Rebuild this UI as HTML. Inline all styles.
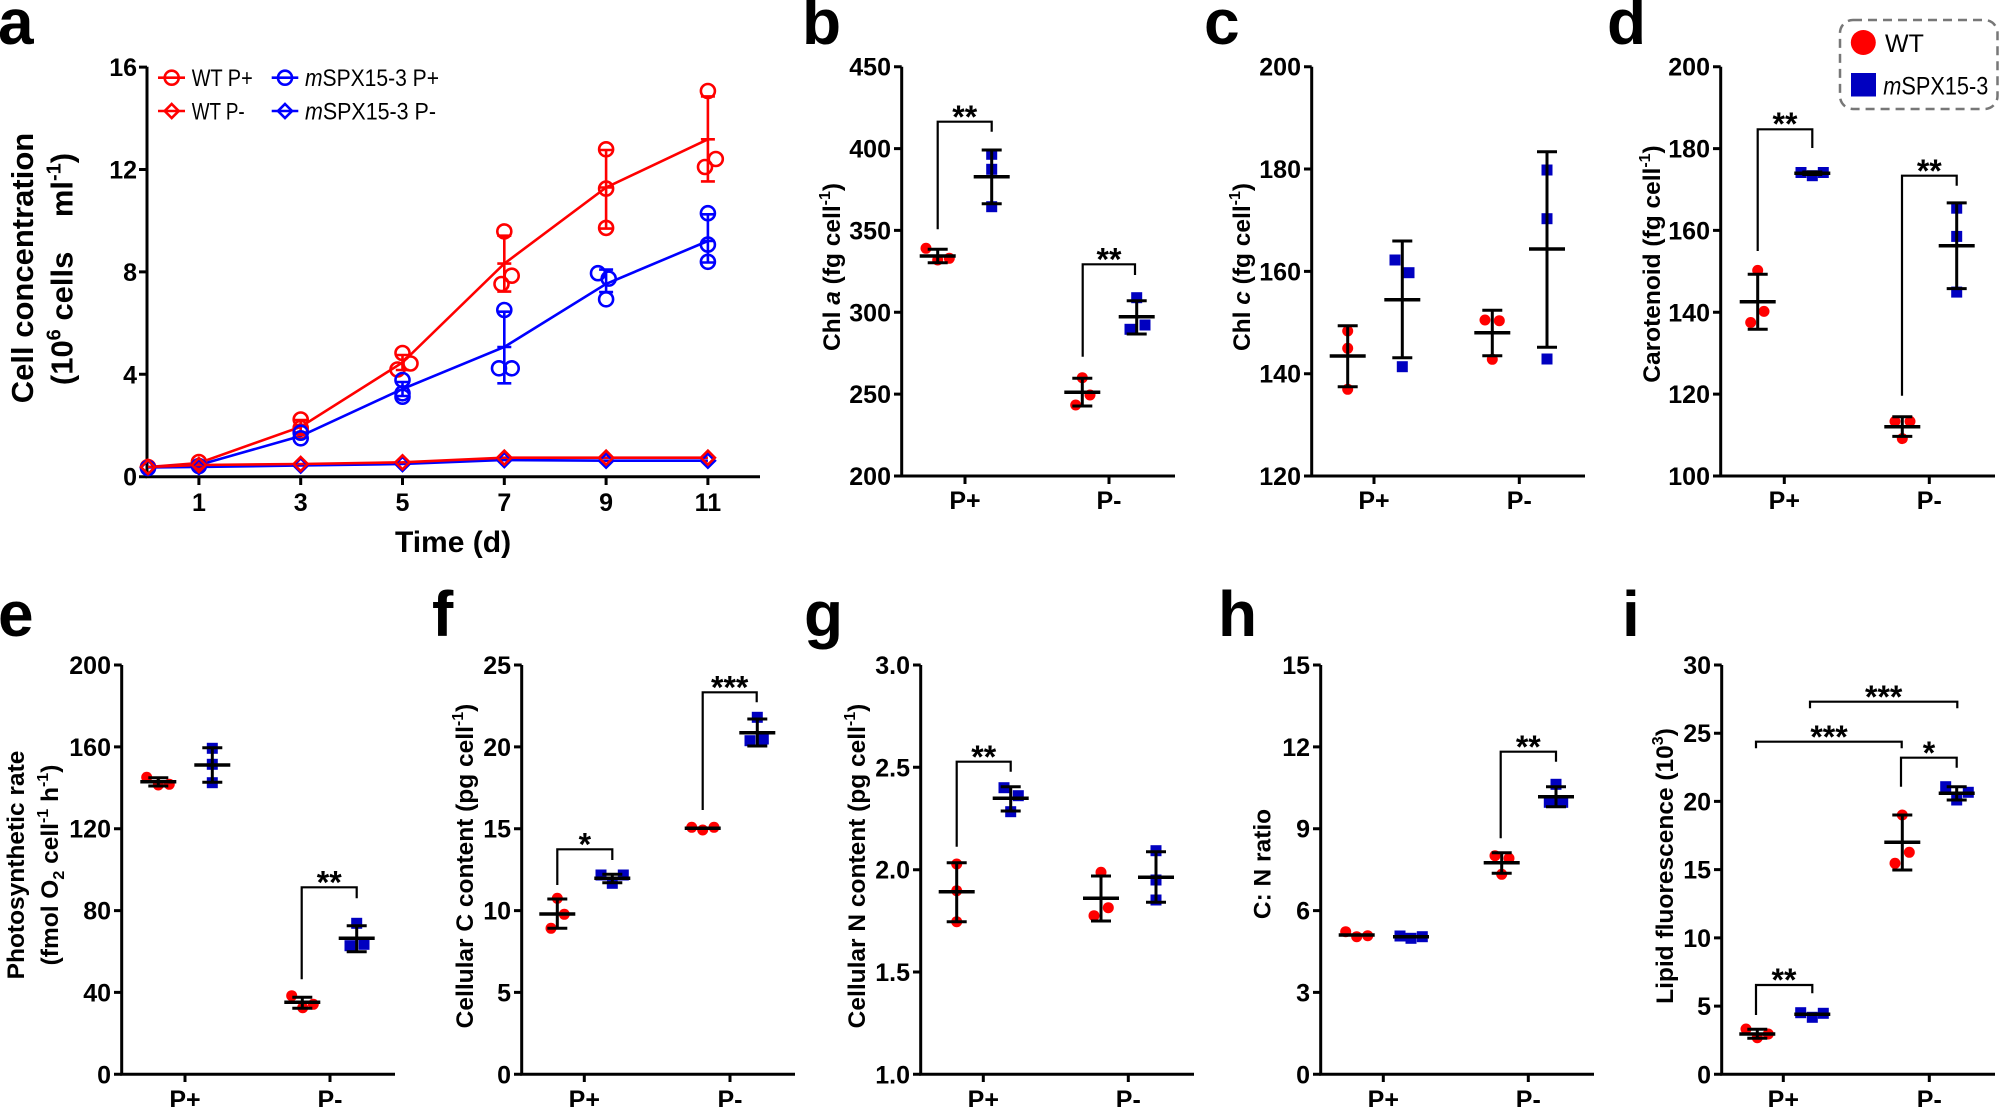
<!DOCTYPE html>
<html><head><meta charset="utf-8"><style>
html,body{margin:0;padding:0;background:#fff;}
svg{display:block;}
text{font-family:"Liberation Sans",Arial,sans-serif;}
.ax{stroke:#000;stroke-width:3;fill:none;}
.eb{stroke:#000;stroke-width:3;fill:none;}
.mn{stroke:#000;stroke-width:3.5;fill:none;}
.br{stroke:#000;stroke-width:2.2;fill:none;}
.tk{font-size:25px;font-weight:bold;}
.tl{font-size:25px;font-weight:bold;text-anchor:end;}
.xl{font-size:25px;font-weight:bold;text-anchor:middle;}
.yl{font-size:24.5px;font-weight:bold;text-anchor:middle;}
.st{font-size:32px;font-weight:bold;text-anchor:middle;}
.lt{font-size:64px;font-weight:bold;}
.r{fill:#ff0000;}
.b{fill:#0000c0;}
.lr{stroke:#ff0000;stroke-width:2.6;fill:none;}
.lb{stroke:#0000ff;stroke-width:2.6;fill:none;}
</style></head><body>
<svg width="2000" height="1107" viewBox="0 0 2000 1107" xmlns="http://www.w3.org/2000/svg">
<rect width="2000" height="1107" fill="#fff"/>

<!-- panel letters -->
<text class="lt" x="-2" y="44">a</text>
<text class="lt" x="802" y="44">b</text>
<text class="lt" x="1204" y="44">c</text>
<text class="lt" x="1607" y="44">d</text>
<text class="lt" x="-2" y="636">e</text>
<text class="lt" x="432" y="636">f</text>
<text class="lt" x="804" y="636">g</text>
<text class="lt" x="1218" y="636">h</text>
<text class="lt" x="1622" y="636">i</text>

<!-- ================= PANEL A ================= -->
<path class="ax" d="M147,66.7V476.7H760"/>
<path class="ax" d="M139,67.1H147M139,169.5H147M139,271.9H147M139,374.3H147M139,476.7H147M198.9,476.7V485M300.7,476.7V485M402.5,476.7V485M504.3,476.7V485M606.1,476.7V485M707.9,476.7V485"/>
<text class="tl" x="137" y="76">16</text>
<text class="tl" x="137" y="178.5">12</text>
<text class="tl" x="137" y="281">8</text>
<text class="tl" x="137" y="383.3">4</text>
<text class="tl" x="137" y="485.7">0</text>
<text class="xl" x="198.9" y="511">1</text>
<text class="xl" x="300.7" y="511">3</text>
<text class="xl" x="402.5" y="511">5</text>
<text class="xl" x="504.3" y="511">7</text>
<text class="xl" x="606.1" y="511">9</text>
<text class="xl" x="707.9" y="511">11</text>
<text x="453" y="552" style="font-size:30px;font-weight:bold;text-anchor:middle">Time (d)</text>
<text transform="translate(33,268) rotate(-90)" style="font-size:31px;font-weight:bold;text-anchor:middle">Cell concentration</text>
<text transform="translate(72.5,269) rotate(-90)" style="font-size:31px;font-weight:bold;text-anchor:middle" xml:space="preserve">(10<tspan font-size="20" dy="-12">6</tspan><tspan dy="12"> cells    ml</tspan><tspan font-size="20" dy="-12">-1</tspan><tspan dy="12">)</tspan></text>

<!-- series lines -->
<polyline class="lr" points="148,467 198.9,463 300.7,426.8 402.5,362.5 504.3,263.6 606.1,187.5 707.9,139.3"/>
<polyline class="lb" points="148,467 198.9,465 300.7,436 402.5,389 504.3,347 606.1,283.9 707.9,241"/>
<polyline class="lb" points="148,467.5 198.9,467 300.7,465.5 402.5,464 504.3,460 606.1,460.7 707.9,460.7"/>
<polyline class="lr" points="148,467 198.9,465 300.7,464 402.5,462.3 504.3,457.7 606.1,457.7 707.9,457.7"/>
<!-- error bars a -->
<path class="lr" d="M300.7,420V433M294,420H307.4M294,433H307.4M402.5,355V370M395.8,355H409.2M395.8,370H409.2M504.3,235.7V291.6M497.3,235.7H511.3M497.3,291.6H511.3M497.3,263.6H511.3M606.1,150V228.6M599.1,150H613.1M599.1,228.6H613.1M599.1,187.5H613.1M707.9,96.4V181.4M700.9,96.4H714.9M700.9,181.4H714.9M700.9,139.3H714.9"/>
<path class="lb" d="M402.5,382V396M395.8,382H409.2M395.8,396H409.2M504.3,311.7V383.3M497.3,311.7H511.3M497.3,383.3H511.3M497.3,347H511.3M606.1,269.6V292.1M599.1,269.6H613.1M599.1,292.1H613.1M707.9,214.3V262.5M700.9,214.3H714.9M700.9,262.5H714.9M700.9,241H714.9"/>
<!-- red circles -->
<g class="lr" fill="none">
<circle cx="148" cy="467" r="7"/><circle cx="198.9" cy="462" r="7"/>
<circle cx="300.7" cy="419.5" r="7"/><circle cx="300.7" cy="428" r="7"/><circle cx="300.7" cy="431.5" r="7"/>
<circle cx="402.5" cy="353" r="7"/><circle cx="410.5" cy="363.5" r="7"/><circle cx="397.5" cy="369.5" r="7"/>
<circle cx="504.3" cy="231.4" r="7"/><circle cx="511.7" cy="275.7" r="7"/><circle cx="501.5" cy="284" r="7"/>
<circle cx="606.1" cy="149.3" r="7"/><circle cx="606.1" cy="188.6" r="7"/><circle cx="606.1" cy="227.9" r="7"/>
<circle cx="707.9" cy="91" r="7"/><circle cx="715.8" cy="159" r="7"/><circle cx="705" cy="167" r="7"/>
</g>
<g class="lb" fill="none">
<circle cx="148" cy="468" r="7"/><circle cx="198.9" cy="466" r="7"/>
<circle cx="300.7" cy="432.7" r="7"/><circle cx="300.7" cy="438.3" r="7"/>
<circle cx="402.5" cy="380" r="7"/><circle cx="402.5" cy="393.3" r="7"/><circle cx="402.5" cy="396.7" r="7"/>
<circle cx="504.3" cy="310" r="7"/><circle cx="499" cy="368.3" r="7"/><circle cx="511.7" cy="368.3" r="7"/>
<circle cx="598" cy="273.2" r="7"/><circle cx="608.7" cy="278.6" r="7"/><circle cx="606.1" cy="299.3" r="7"/>
<circle cx="707.9" cy="213.2" r="7"/><circle cx="707.9" cy="244.6" r="7"/><circle cx="707.9" cy="261.8" r="7"/>
</g>
<!-- diamonds -->
<g class="lb" fill="none">
<path d="M148,460.5l7,7l-7,7l-7,-7z"/><path d="M198.9,460l7,7l-7,7l-7,-7z"/><path d="M300.7,458.5l7,7l-7,7l-7,-7z"/><path d="M402.5,457l7,7l-7,7l-7,-7z"/><path d="M504.3,453l7,7l-7,7l-7,-7z"/><path d="M606.1,453.7l7,7l-7,7l-7,-7z"/><path d="M707.9,453.7l7,7l-7,7l-7,-7z"/>
</g>
<g class="lr" fill="none">
<path d="M148,460l7,7l-7,7l-7,-7z"/><path d="M198.9,458l7,7l-7,7l-7,-7z"/><path d="M300.7,457l7,7l-7,7l-7,-7z"/><path d="M402.5,455.3l7,7l-7,7l-7,-7z"/><path d="M504.3,450.7l7,7l-7,7l-7,-7z"/><path d="M606.1,450.7l7,7l-7,7l-7,-7z"/><path d="M707.9,450.7l7,7l-7,7l-7,-7z"/>
</g>
<!-- legend a -->
<path class="lr" d="M158,77.7H185"/><circle class="lr" cx="171.7" cy="77.7" r="7"/>
<text x="191.7" y="86" style="font-size:24px" textLength="61" lengthAdjust="spacingAndGlyphs">WT P+</text>
<path class="lb" d="M271.7,77.7H298.3"/><circle class="lb" cx="285" cy="77.7" r="7"/>
<text x="305" y="86" style="font-size:24px" textLength="134" lengthAdjust="spacingAndGlyphs"><tspan font-style="italic">m</tspan>SPX15-3 P+</text>
<path class="lr" d="M158,111H185"/><path class="lr" d="M171.7,104l7,7l-7,7l-7,-7z"/>
<text x="191.7" y="119.5" style="font-size:24px" textLength="53" lengthAdjust="spacingAndGlyphs">WT P-</text>
<path class="lb" d="M271.7,111H298.3"/><path class="lb" d="M285,104l7,7l-7,7l-7,-7z"/>
<text x="305" y="119.5" style="font-size:24px" textLength="131" lengthAdjust="spacingAndGlyphs"><tspan font-style="italic">m</tspan>SPX15-3 P-</text>

<!-- ================= PANEL B ================= -->
<path class="ax" d="M901.7,66.7V476H1175"/>
<path class="ax" d="M894,66.7H901.7M894,148.6H901.7M894,230.4H901.7M894,312.3H901.7M894,394.1H901.7M894,476H901.7M965,476V484M1109,476V484"/>
<text class="tl" x="891" y="75.7">450</text>
<text class="tl" x="891" y="157.6">400</text>
<text class="tl" x="891" y="239.4">350</text>
<text class="tl" x="891" y="321.3">300</text>
<text class="tl" x="891" y="403.1">250</text>
<text class="tl" x="891" y="485">200</text>
<text class="xl" x="965" y="509">P+</text>
<text class="xl" x="1109" y="509">P-</text>
<text class="yl" transform="translate(840,267) rotate(-90)">Chl <tspan font-style="italic">a</tspan> (fg cell<tspan font-size="16" dy="-10">-1</tspan><tspan dy="10">)</tspan></text>
<g class="r"><circle cx="926" cy="248.3" r="5.5"/><circle cx="937.7" cy="260" r="5.5"/><circle cx="949.3" cy="258.3" r="5.5"/>
<circle cx="1082.3" cy="377.7" r="5.5"/><circle cx="1090" cy="395" r="5.5"/><circle cx="1075.7" cy="405" r="5.5"/></g>
<g class="b"><rect x="986.2" y="148.8" width="11" height="11"/><rect x="986.2" y="163.8" width="11" height="11"/><rect x="986.2" y="201.2" width="11" height="11"/>
<rect x="1131.2" y="292.2" width="11" height="11"/><rect x="1139.5" y="319.5" width="11" height="11"/><rect x="1124.5" y="323.8" width="11" height="11"/></g>
<path class="eb" d="M937.7,249.3V262.7M927.7,249.3H947.7M927.7,262.7H947.7M991.7,150V203.7M981.7,150H1001.7M981.7,203.7H1001.7M1082.3,378.3V406M1072.3,378.3H1092.3M1072.3,406H1092.3M1136.7,300.7V334M1126.7,300.7H1146.7M1126.7,334H1146.7"/>
<path class="mn" d="M919.7,256H955.7M973.7,176.7H1009.7M1064.3,392.3H1100.3M1118.7,316.7H1154.7"/>
<path class="br" d="M937.7,229.3V121.7H991.7V131.7M1082.7,356.7V264.3H1135V275"/>
<text class="st" x="964.7" y="128">**</text>
<text class="st" x="1109" y="270.5">**</text>

<!-- ================= PANEL C ================= -->
<path class="ax" d="M1311.7,66.7V476H1585"/>
<path class="ax" d="M1304,66.7H1311.7M1304,169H1311.7M1304,271.4H1311.7M1304,373.7H1311.7M1304,476H1311.7M1374,476V484M1519.3,476V484"/>
<text class="tl" x="1301" y="75.7">200</text>
<text class="tl" x="1301" y="178">180</text>
<text class="tl" x="1301" y="280.4">160</text>
<text class="tl" x="1301" y="382.7">140</text>
<text class="tl" x="1301" y="485">120</text>
<text class="xl" x="1374" y="509">P+</text>
<text class="xl" x="1519.3" y="509">P-</text>
<text class="yl" transform="translate(1250,267) rotate(-90)">Chl <tspan font-style="italic">c</tspan> (fg cell<tspan font-size="16" dy="-10">-1</tspan><tspan dy="10">)</tspan></text>
<g class="r"><circle cx="1347.7" cy="331" r="5.5"/><circle cx="1347.7" cy="348.3" r="5.5"/><circle cx="1347.7" cy="389.3" r="5.5"/>
<circle cx="1485" cy="320" r="5.5"/><circle cx="1499.3" cy="320.7" r="5.5"/><circle cx="1492.3" cy="359.3" r="5.5"/></g>
<g class="b"><rect x="1389.5" y="254.5" width="11" height="11"/><rect x="1403.5" y="267.2" width="11" height="11"/><rect x="1396.8" y="361.2" width="11" height="11"/>
<rect x="1541.5" y="164.5" width="11" height="11"/><rect x="1541.5" y="213.2" width="11" height="11"/><rect x="1541.5" y="353.5" width="11" height="11"/></g>
<path class="eb" d="M1347.7,325.7V386.7M1337.7,325.7H1357.7M1337.7,386.7H1357.7M1402.3,241V357.7M1392.3,241H1412.3M1392.3,357.7H1412.3M1492.3,310.3V355.7M1482.3,310.3H1502.3M1482.3,355.7H1502.3M1547,151.7V347.3M1537,151.7H1557M1537,347.3H1557"/>
<path class="mn" d="M1329.7,356H1365.7M1384.3,299.7H1420.3M1474.3,332.7H1510.3M1529,249H1565"/>

<!-- ================= PANEL D ================= -->
<path class="ax" d="M1720.7,66.7V476H1995"/>
<path class="ax" d="M1713,66.7H1720.7M1713,148.6H1720.7M1713,230.4H1720.7M1713,312.3H1720.7M1713,394.1H1720.7M1713,476H1720.7M1784.3,476V484M1929.3,476V484"/>
<text class="tl" x="1710" y="75.7">200</text>
<text class="tl" x="1710" y="157.6">180</text>
<text class="tl" x="1710" y="239.4">160</text>
<text class="tl" x="1710" y="321.3">140</text>
<text class="tl" x="1710" y="403.1">120</text>
<text class="tl" x="1710" y="485">100</text>
<text class="xl" x="1784.3" y="509">P+</text>
<text class="xl" x="1929.3" y="509">P-</text>
<text class="yl" transform="translate(1660,264) rotate(-90)">Carotenoid (fg cell<tspan font-size="16" dy="-10">-1</tspan><tspan dy="10">)</tspan></text>
<g class="r"><circle cx="1757.7" cy="270.4" r="5.5"/><circle cx="1764" cy="311.4" r="5.5"/><circle cx="1750.7" cy="322.5" r="5.5"/>
<circle cx="1895" cy="421.4" r="5.5"/><circle cx="1910" cy="421.4" r="5.5"/><circle cx="1902.3" cy="438.6" r="5.5"/></g>
<g class="b"><rect x="1795.5" y="167" width="11" height="11"/><rect x="1806.8" y="170.2" width="11" height="11"/><rect x="1817.8" y="167" width="11" height="11"/>
<rect x="1951.2" y="202.7" width="11" height="11"/><rect x="1951.2" y="230.9" width="11" height="11"/><rect x="1951.2" y="286.6" width="11" height="11"/></g>
<path class="eb" d="M1757.7,274.3V329.3M1747.7,274.3H1767.7M1747.7,329.3H1767.7M1812.3,172V174.5M1802.3,172H1822.3M1802.3,174.5H1822.3M1902.3,416.8V436.4M1892.3,416.8H1912.3M1892.3,436.4H1912.3M1956.7,202.9V288.6M1946.7,202.9H1966.7M1946.7,288.6H1966.7"/>
<path class="mn" d="M1739.7,301.8H1775.7M1794.3,173.2H1830.3M1884.3,426.8H1920.3M1938.7,245.7H1974.7"/>
<path class="br" d="M1757.7,251V129.3H1812.3V148M1902,395.7V175.7H1956.7V185.7"/>
<text class="st" x="1785" y="135">**</text>
<text class="st" x="1929.3" y="182">**</text>
<!-- legend d -->
<rect x="1840" y="20" width="157.5" height="89" rx="13" ry="13" fill="none" stroke="#777" stroke-width="2.5" stroke-dasharray="9,6"/>
<circle cx="1863.3" cy="42.5" r="12.5" fill="#ff0000"/>
<text x="1885" y="52" style="font-size:25px">WT</text>
<rect x="1851" y="73" width="25" height="23.5" fill="#0000c0"/>
<text x="1883.3" y="94.5" style="font-size:25px" textLength="105" lengthAdjust="spacingAndGlyphs"><tspan font-style="italic">m</tspan>SPX15-3</text>

<!-- ================= PANEL E ================= -->
<path class="ax" d="M121.7,665V1074.3H395"/>
<path class="ax" d="M114,665H121.7M114,746.9H121.7M114,828.7H121.7M114,910.6H121.7M114,992.4H121.7M114,1074.3H121.7M185,1074.3V1082M330,1074.3V1082"/>
<text class="tl" x="111" y="674">200</text>
<text class="tl" x="111" y="755.9">160</text>
<text class="tl" x="111" y="837.7">120</text>
<text class="tl" x="111" y="919.6">80</text>
<text class="tl" x="111" y="1001.4">40</text>
<text class="tl" x="111" y="1083.3">0</text>
<text class="xl" x="185" y="1108">P+</text>
<text class="xl" x="330" y="1108">P-</text>
<text class="yl" transform="translate(24,865) rotate(-90)">Photosynthetic rate</text>
<text class="yl" transform="translate(58,865) rotate(-90)">(fmol O<tspan font-size="16" dy="6">2</tspan><tspan dy="-6"> cell</tspan><tspan font-size="16" dy="-10">-1</tspan><tspan dy="10"> h</tspan><tspan font-size="16" dy="-10">-1</tspan><tspan dy="10">)</tspan></text>
<g class="r"><circle cx="146.7" cy="777.3" r="5.5"/><circle cx="158.3" cy="785" r="5.5"/><circle cx="169.3" cy="784.3" r="5.5"/>
<circle cx="291.7" cy="995.7" r="5.5"/><circle cx="302.7" cy="1007.7" r="5.5"/><circle cx="313.3" cy="1004.3" r="5.5"/></g>
<g class="b"><rect x="206.8" y="742.8" width="11" height="11"/><rect x="206.8" y="758.8" width="11" height="11"/><rect x="206.8" y="777.2" width="11" height="11"/>
<rect x="351.2" y="917.8" width="11" height="11"/><rect x="344.5" y="940.2" width="11" height="11"/><rect x="358.5" y="938.8" width="11" height="11"/></g>
<path class="eb" d="M158.3,777.7V786M148.3,777.7H168.3M148.3,786H168.3M212.3,747.7V782.3M202.3,747.7H222.3M202.3,782.3H222.3M302.3,997.3V1008.3M292.3,997.3H312.3M292.3,1008.3H312.3M356.7,925.7V951.7M346.7,925.7H366.7M346.7,951.7H366.7"/>
<path class="mn" d="M140.3,781.7H176.3M194.3,765H230.3M284.3,1002.3H320.3M338.7,938.3H374.7"/>
<path class="br" d="M301.7,979.3V887.3H356.7V898.3"/>
<text class="st" x="329.2" y="893.5">**</text>

<!-- ================= PANEL F ================= -->
<path class="ax" d="M521.7,665V1074.3H795"/>
<path class="ax" d="M514,665H521.7M514,746.9H521.7M514,828.7H521.7M514,910.6H521.7M514,992.4H521.7M514,1074.3H521.7M584.3,1074.3V1082M730,1074.3V1082"/>
<text class="tl" x="511" y="674">25</text>
<text class="tl" x="511" y="755.9">20</text>
<text class="tl" x="511" y="837.7">15</text>
<text class="tl" x="511" y="919.6">10</text>
<text class="tl" x="511" y="1001.4">5</text>
<text class="tl" x="511" y="1083.3">0</text>
<text class="xl" x="584.3" y="1108">P+</text>
<text class="xl" x="730" y="1108">P-</text>
<text class="yl" transform="translate(473,866) rotate(-90)">Cellular C content (pg cell<tspan font-size="16" dy="-10">-1</tspan><tspan dy="10">)</tspan></text>
<g class="r"><circle cx="557.3" cy="898.3" r="5.5"/><circle cx="564.3" cy="914.3" r="5.5"/><circle cx="551" cy="928.3" r="5.5"/>
<circle cx="691.7" cy="827.3" r="5.5"/><circle cx="702.7" cy="830" r="5.5"/><circle cx="714" cy="827.3" r="5.5"/></g>
<g class="b"><rect x="595.5" y="869.5" width="11" height="11"/><rect x="617.8" y="869.5" width="11" height="11"/><rect x="606.8" y="877.8" width="11" height="11"/>
<rect x="751.8" y="711.8" width="11" height="11"/><rect x="744.5" y="735.2" width="11" height="11"/><rect x="757.8" y="733.5" width="11" height="11"/></g>
<path class="eb" d="M557.3,899V928.3M547.3,899H567.3M547.3,928.3H567.3M612.3,874.3V882.7M602.3,874.3H622.3M602.3,882.7H622.3M702.7,826.5V830M757.3,719V746M747.3,719H767.3M747.3,746H767.3"/>
<path class="mn" d="M539.3,914H575.3M594.3,878.3H630.3M684.7,828.3H720.7M739.3,732.7H775.3"/>
<path class="br" d="M557.3,885V849.3H612.3V860M702.7,810V692.3H756.7V702.3"/>
<text class="st" x="584.8" y="855.5">*</text>
<text class="st" x="729.7" y="698.5">***</text>

<!-- ================= PANEL G ================= -->
<path class="ax" d="M920.7,665V1074.3H1194"/>
<path class="ax" d="M913,665H920.7M913,767.3H920.7M913,869.7H920.7M913,972H920.7M913,1074.3H920.7M983.3,1074.3V1082M1128.3,1074.3V1082"/>
<text class="tl" x="910" y="674">3.0</text>
<text class="tl" x="910" y="776.3">2.5</text>
<text class="tl" x="910" y="878.7">2.0</text>
<text class="tl" x="910" y="981">1.5</text>
<text class="tl" x="910" y="1083.3">1.0</text>
<text class="xl" x="983.3" y="1108">P+</text>
<text class="xl" x="1128.3" y="1108">P-</text>
<text class="yl" transform="translate(865,866) rotate(-90)">Cellular N content (pg cell<tspan font-size="16" dy="-10">-1</tspan><tspan dy="10">)</tspan></text>
<g class="r"><circle cx="956.7" cy="864" r="5.5"/><circle cx="956.7" cy="890.7" r="5.5"/><circle cx="956.7" cy="921.7" r="5.5"/>
<circle cx="1101" cy="872.3" r="5.5"/><circle cx="1108.3" cy="907.7" r="5.5"/><circle cx="1094" cy="915.7" r="5.5"/></g>
<g class="b"><rect x="998.5" y="782.2" width="11" height="11"/><rect x="1012.8" y="790.2" width="11" height="11"/><rect x="1005.2" y="806.2" width="11" height="11"/>
<rect x="1150.5" y="845.2" width="11" height="11"/><rect x="1150.5" y="874.5" width="11" height="11"/><rect x="1150.5" y="894.5" width="11" height="11"/></g>
<path class="eb" d="M956.7,862.7V921.7M946.7,862.7H966.7M946.7,921.7H966.7M1010.7,786.7V811M1000.7,786.7H1020.7M1000.7,811H1020.7M1101,876V921M1091,876H1111M1091,921H1111M1156,851.7V902.3M1146,851.7H1166M1146,902.3H1166"/>
<path class="mn" d="M938.7,891.7H974.7M992.7,798.3H1028.7M1083,898.3H1119M1138,877.3H1174"/>
<path class="br" d="M956.7,846.7V761.7H1010.7V771.7"/>
<text class="st" x="983.7" y="768">**</text>

<!-- ================= PANEL H ================= -->
<path class="ax" d="M1320.7,665V1074.3H1594"/>
<path class="ax" d="M1313,665H1320.7M1313,746.9H1320.7M1313,828.7H1320.7M1313,910.6H1320.7M1313,992.4H1320.7M1313,1074.3H1320.7M1383.3,1074.3V1082M1528.3,1074.3V1082"/>
<text class="tl" x="1310" y="674">15</text>
<text class="tl" x="1310" y="755.9">12</text>
<text class="tl" x="1310" y="837.7">9</text>
<text class="tl" x="1310" y="919.6">6</text>
<text class="tl" x="1310" y="1001.4">3</text>
<text class="tl" x="1310" y="1083.3">0</text>
<text class="xl" x="1383.3" y="1108">P+</text>
<text class="xl" x="1528.3" y="1108">P-</text>
<text class="yl" transform="translate(1270.5,864) rotate(-90)">C: N ratio</text>
<g class="r"><circle cx="1345.7" cy="931.7" r="5.5"/><circle cx="1356.7" cy="936.7" r="5.5"/><circle cx="1367.7" cy="935.7" r="5.5"/>
<circle cx="1495" cy="855.7" r="5.5"/><circle cx="1509" cy="858.3" r="5.5"/><circle cx="1501.7" cy="874.3" r="5.5"/></g>
<g class="b"><rect x="1394.5" y="930.5" width="11" height="11"/><rect x="1405.5" y="932.8" width="11" height="11"/><rect x="1416.8" y="931.2" width="11" height="11"/>
<rect x="1550.5" y="778.8" width="11" height="11"/><rect x="1543.8" y="796.8" width="11" height="11"/><rect x="1557.2" y="796.8" width="11" height="11"/></g>
<path class="eb" d="M1356.7,933.5V936.5M1411,935.5V938M1501.7,852.7V873.3M1491.7,852.7H1511.7M1491.7,873.3H1511.7M1556,786.7V806.7M1546,786.7H1566M1546,806.7H1566"/>
<path class="mn" d="M1338.7,935H1374.7M1393,936.7H1429M1483.7,862.7H1519.7M1538,796.7H1574"/>
<path class="br" d="M1500.7,838.3V751.7H1556V761.7"/>
<text class="st" x="1528.3" y="758">**</text>

<!-- ================= PANEL I ================= -->
<path class="ax" d="M1721.7,665V1074.3H1995"/>
<path class="ax" d="M1714,665H1721.7M1714,733.2H1721.7M1714,801.4H1721.7M1714,869.6H1721.7M1714,937.9H1721.7M1714,1006.1H1721.7M1714,1074.3H1721.7M1783.3,1074.3V1082M1929.3,1074.3V1082"/>
<text class="tl" x="1711" y="674">30</text>
<text class="tl" x="1711" y="742.2">25</text>
<text class="tl" x="1711" y="810.4">20</text>
<text class="tl" x="1711" y="878.6">15</text>
<text class="tl" x="1711" y="946.9">10</text>
<text class="tl" x="1711" y="1015.1">5</text>
<text class="tl" x="1711" y="1083.3">0</text>
<text class="xl" x="1783.3" y="1108">P+</text>
<text class="xl" x="1929.3" y="1108">P-</text>
<text class="yl" transform="translate(1673,866) rotate(-90)">Lipid fluorescence (10<tspan font-size="16" dy="-10">3</tspan><tspan dy="10">)</tspan></text>
<g class="r"><circle cx="1746" cy="1029" r="5.5"/><circle cx="1757.3" cy="1037.7" r="5.5"/><circle cx="1768.3" cy="1034" r="5.5"/>
<circle cx="1902.3" cy="815" r="5.5"/><circle cx="1909.3" cy="852.3" r="5.5"/><circle cx="1895" cy="863.3" r="5.5"/></g>
<g class="b"><rect x="1795.2" y="1007.2" width="11" height="11"/><rect x="1806.8" y="1011.8" width="11" height="11"/><rect x="1817.8" y="1007.8" width="11" height="11"/>
<rect x="1940.2" y="781.2" width="11" height="11"/><rect x="1962.8" y="786.8" width="11" height="11"/><rect x="1951.2" y="794.5" width="11" height="11"/></g>
<path class="eb" d="M1757.3,1029.3V1038.3M1747.3,1029.3H1767.3M1747.3,1038.3H1767.3M1812.3,1012.5V1016M1902.3,815V870M1892.3,815H1912.3M1892.3,870H1912.3M1956.7,786.7V800M1946.7,786.7H1966.7M1946.7,800H1966.7"/>
<path class="mn" d="M1739.3,1034H1775.3M1794.3,1014.3H1830.3M1884.3,842.3H1920.3M1938.7,793.3H1974.7"/>
<path class="br" d="M1756,1015V985H1812.3V993.3M1901,786.7V757.7H1956.7V767.7M1756,748.3V741.7H1901.7V748.3M1810,708.3V701.7H1957.3V708.3"/>
<text class="st" x="1784" y="991">**</text>
<text class="st" x="1929" y="764">*</text>
<text class="st" x="1829" y="748">***</text>
<text class="st" x="1883.7" y="708">***</text>
</svg>
</body></html>
